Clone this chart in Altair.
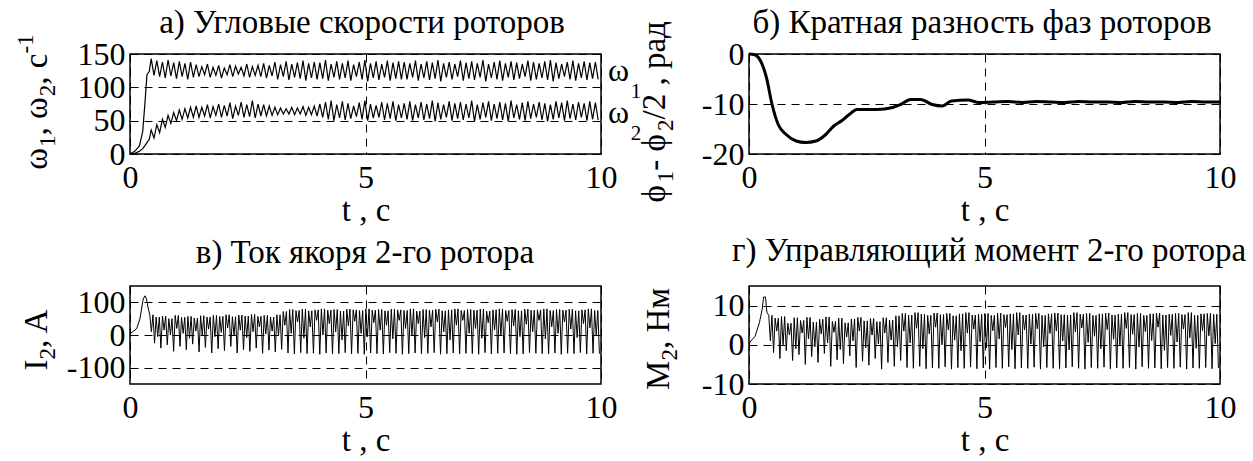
import altair as alt
import numpy as np
import pandas as pd

FONT = "Liberation Serif, Times New Roman, Times, serif"

# ---------------- panel a: angular speeds of the rotors ----------------
w_t0 = [0.0, 0.10, 0.20, 0.27, 0.32, 0.36, 0.41]
w1_t0 = [0, 4, 12, 34, 79, 119, 124]
w2_t0 = [0, 1, 4, 8, 13, 17, 22]
# per-cycle maxima / minima, 0.45 s .. 10 s
w1_hi = [143, 140, 138, 141, 137, 139, 136, 138,
         134, 131, 135, 130, 133, 129, 134, 132, 130, 135, 131, 133,
         136, 133, 138, 134, 139, 135, 137, 140, 136, 138,
         137, 141, 135, 139, 136, 140, 134, 138, 141, 136, 139, 135, 140, 137, 139,
         138, 136, 140, 135, 139, 137, 141, 136, 138, 135, 140, 137, 139, 136, 141,
         135, 138, 140, 136, 139, 137, 135, 140, 138, 136, 139, 141, 137, 135, 138,
         140, 136, 139, 137, 138]
w1_lo = [118, 116, 114, 117, 113, 116, 112, 115,
         116, 119, 115, 118, 114, 119, 116, 120, 117, 115, 118, 116,
         114, 117, 112, 116, 111, 115, 113, 110, 114, 112,
         113, 110, 115, 112, 114, 110, 116, 112, 109, 114, 111, 115, 110, 113, 112,
         112, 115, 110, 114, 111, 113, 109, 115, 112, 116, 110, 113, 111, 115, 109,
         114, 112, 110, 115, 111, 113, 116, 110, 112, 114, 111, 109, 113, 116, 112,
         110, 114, 111, 113, 112]
w2_hi = [36, 44, 52, 58, 62, 66, 68, 70,
         72, 70, 74, 71, 75, 73, 77, 72, 78, 74, 80, 75,
         74, 72, 70, 69, 68, 70, 69, 71, 70, 72,
         75, 78, 80, 74, 79, 76, 72, 77, 80, 75, 73, 78, 76, 79, 74,
         76, 79, 74, 78, 75, 80, 77, 74, 79, 76, 78, 75, 80, 74, 77,
         79, 75, 78, 76, 80, 74, 77, 79, 75, 78, 76, 74, 79, 77, 80,
         75, 78, 76, 79, 77]
w2_lo = [24, 32, 40, 46, 50, 52, 54, 55,
         55, 57, 54, 58, 55, 57, 53, 58, 55, 56, 54, 57,
         57, 58, 59, 60, 60, 59, 60, 58, 59, 57,
         55, 52, 50, 54, 51, 53, 56, 52, 50, 54, 55, 51, 53, 50, 54,
         52, 50, 54, 51, 53, 49, 52, 55, 50, 53, 51, 54, 49, 52, 55,
         50, 53, 51, 49, 54, 52, 50, 53, 55, 51, 49, 52, 54, 50, 53,
         51, 55, 50, 52, 51]

# ---------------- panel b: multiple phase difference ----------------
ph_t = [0.0, 0.1, 0.2, 0.37, 0.49, 0.62, 0.79, 1.0, 1.2, 1.42, 1.63, 1.8, 1.96,
        2.13, 2.29, 2.71, 3.05, 3.22, 3.43, 3.64, 3.89, 4.1, 4.3, 4.64, 4.89,
        5.2, 5.5, 5.8, 6.1, 6.4, 6.7, 7.0, 7.3, 7.6, 7.9, 8.2, 8.5, 8.8, 9.1,
        9.4, 9.7, 10.0]
ph_v = [0.0, -0.1, -0.7, -4.7, -10.1, -14.1, -16.1, -17.4, -17.7, -17.4, -16.1,
        -14.4, -13.4, -12.1, -11.1, -11.1, -10.7, -10.1, -9.1, -9.1, -10.1, -10.4,
        -9.4, -9.2, -9.7, -9.6, -9.5, -9.7, -9.5, -9.6, -9.7, -9.5, -9.6, -9.6,
        -9.7, -9.5, -9.6, -9.6, -9.7, -9.5, -9.6, -9.6]

# ---------------- panel c: armature current of rotor 2 ----------------
i2_t0 = [0.0, 0.14, 0.21, 0.28, 0.32, 0.35, 0.39]
i2_v0 = [4, 19, 49, 110, 120, 110, 80]
i2_hi = [62, 55, 58, 50, 60, 54, 57, 52, 59, 55, 60, 57, 62, 56, 61, 58, 63, 57, 60, 55, 62,
         72, 78, 75, 79, 74, 77, 80, 76, 78, 73, 79, 77, 75, 80, 76, 78, 74, 79, 77, 75,
         80, 73, 78, 76, 79, 74, 77, 80, 75, 78, 76, 79, 73, 77, 80, 75, 78, 74, 79, 76,
         77, 80, 75, 78, 76, 79, 74, 77, 80, 75]
i2_mid = [10, -5, 15, 0, 20, 5, -10, 12, 0, 18, -5, 8, 22, 0, 15, -8, 10, 25, 3, 12, -2,
          30, 5, 40, -10, 25, 45, 0, 35, 10, -15, 28, 42, 5, -5, 38, 15, 30, -12, 45, 20,
          0, 35, -8, 25, 40, 10, -15, 30, 45, 5, 20, -10, 38, 15, 0, 42, 28, -5, 33, 10,
          45, -12, 25, 5, 40, 18, -8, 35, 22, 0]
i2_lo = [-25, -40, -30, -50, -35, -45, -28, -52, -38, -55, -42, -48, -35, -55, -45, -50,
         -40, -56, -46, -52, -44,
         -55, -58, -54, -57, -56, -59, -55, -58, -57, -54, -58, -56, -59, -55, -57, -58,
         -54, -56, -59, -57, -55, -58, -56, -54, -59, -57, -55, -58, -56, -57, -59, -54,
         -58, -56, -55, -57, -59, -58, -54, -56, -57, -58, -55, -59, -56, -57, -54, -58,
         -56, -57]

# ---------------- panel d: control torque of rotor 2 ----------------
m2_t0 = [0.0, 0.13, 0.22, 0.28, 0.31, 0.35, 0.38]
m2_v0 = [0.4, 2.2, 5.6, 9.1, 12.2, 12.2, 8.3]
m2_hi = [7.5, 6.8, 7.2, 5.5, 6.9, 6.2, 7.0, 5.8, 6.5, 7.1, 6.0, 6.8, 5.6, 6.6, 7.0, 6.1,
         6.7, 5.9, 6.9, 6.3, 7.4,
         8.0, 7.6, 8.2, 7.8, 7.5, 8.1, 7.7, 8.0, 7.4, 7.9, 8.2, 7.6, 7.8, 8.0, 7.5, 8.1,
         7.7, 7.9, 8.2, 7.6, 7.8, 8.0, 7.5, 7.9, 8.1, 7.7, 7.6, 8.2, 7.8, 8.0, 7.5, 7.9,
         8.1, 7.6, 7.8, 8.2, 7.7, 8.0, 7.5, 7.9, 8.1, 7.6, 7.8, 8.0, 7.7, 8.2, 7.5, 7.9,
         8.0, 7.8]
m2_mid = [1.0, 3.5, 0.0, 2.5, -1.0, 3.0, 1.5, -0.5, 2.8, 0.5, 3.2, -1.2, 2.0, 1.0, 3.5,
          -0.8, 2.5, 0.2, 3.0, 1.2, -0.5,
          3.5, 0.5, 4.2, -1.0, 2.8, 4.5, 0.0, 3.8, 1.2, -1.5, 3.0, 4.0, 0.8, -0.8, 3.6,
          1.5, 4.4, -1.2, 2.5, 3.8, 0.2, 4.1, -0.5, 2.9, 3.5, 1.0, -1.3, 3.3, 4.3, 0.6,
          2.2, -1.0, 3.9, 1.4, 0.0, 4.2, 2.7, -0.6, 3.4, 1.1, 4.5, -1.4, 2.4, 0.7, 4.0,
          1.8, -0.9, 3.6, 2.3, 0.3]
m2_lo = [-2.0, -3.5, -1.5, -4.0, -2.5, -5.0, -3.0, -4.5, -2.2, -5.5, -3.8, -4.8, -2.8,
         -5.8, -4.2, -5.2, -3.5, -6.2, -4.5, -5.5, -4.0,
         -5.8, -6.0, -5.5, -6.1, -5.9, -6.0, -5.6, -6.2, -5.8, -6.0, -5.7, -6.1, -5.9,
         -6.2, -5.8, -6.0, -5.6, -6.1, -5.9, -6.0, -5.7, -6.2, -5.8, -6.0, -6.1, -5.9,
         -5.6, -6.0, -6.2, -5.8, -6.0, -5.7, -6.1, -5.9, -6.0, -5.8, -6.2, -5.6, -6.0,
         -5.9, -6.1, -5.8, -6.0, -5.7, -6.2, -5.9, -6.0, -5.8, -6.1, -5.9]

# panel headings
titles = ["а) Угловые скорости роторов", "б) Кратная разность фаз роторов",
          "в) Ток якоря 2-го ротора", "г) Управляющий момент 2-го ротора"]

# vertical axis labels: (text, role) pieces, role 0 = normal, 1 = subscript, -1 = superscript
ylab_a = [("ω", 0), ("1", 1), (", ω", 0), ("2", 1), (", с", 0), ("-1", -1)]
ylab_b = [("ϕ", 0), ("1", 1), ("- ϕ", 0), ("2", 1), ("/2 , рад", 0)]
ylab_c = [("I", 0), ("2", 1), (" , A", 0)]
ylab_d = [("M", 0), ("2", 1), (" , Нм", 0)]


def cycle_series(t_start, t_stop, stages):
    """Spread per-cycle extreme values evenly over [t_start, t_stop)."""
    n = min(len(s) for s in stages)
    vals = np.array([s[:n] for s in stages], dtype=float).T.reshape(-1)
    t = np.linspace(t_start, t_stop, len(vals), endpoint=False)
    return t, vals


def join(t0, v0, t1, v1, name):
    return pd.DataFrame({"t": np.concatenate([t0, t1]),
                         "v": np.concatenate([v0, v1]), "s": name})


ta, va1 = cycle_series(0.45, 10.0, [w1_hi, w1_lo])
_, va2 = cycle_series(0.45, 10.0, [w2_hi, w2_lo])
df_a = pd.concat([join(w_t0, w1_t0, ta, va1, "w1"), join(w_t0, w2_t0, ta, va2, "w2")])
df_b = pd.DataFrame({"t": ph_t, "v": ph_v})
tc, vc = cycle_series(0.42, 10.0, [i2_hi, i2_mid, i2_hi, i2_lo])
df_c = join(i2_t0, i2_v0, tc, vc, "i2")
td, vd = cycle_series(0.42, 10.0, [m2_hi, m2_mid, m2_hi, m2_lo])
df_d = join(m2_t0, m2_v0, td, vd, "m2")

# end labels of the two speed curves
lab_main = pd.DataFrame({"t": [10, 10], "v": [125, 62], "txt": ["ω", "ω"]})
lab_sub = pd.DataFrame({"t": [10, 10], "v": [125, 62], "txt": ["1", "2"]})

PW, PH1, PH2 = 471, 100, 98
ONE = pd.DataFrame({"k": [0]})
FS, FS_SUB = 33, 23

# approximate advance widths (em) of the serif face, used to chain label pieces
ADV = {"ω": 0.69, "ϕ": 0.62, ",": 0.25, " ": 0.25, "с": 0.444, "-": 0.333, "/": 0.278,
       "р": 0.5, "а": 0.444, "д": 0.5, "I": 0.333, "A": 0.722, "M": 0.889, "Н": 0.722,
       "м": 0.62}


def text_len(s, size):
    return sum(ADV.get(ch, 0.5) for ch in s) * size


def x_enc():
    return alt.X("t:Q", scale=alt.Scale(domain=[0, 10], nice=False, zero=False),
                 axis=alt.Axis(values=[0, 5, 10], title="t , с",
                               labelExpr="toString(datum.value)", labelPadding=8,
                               labelOverlap=False, titleY=66, titleBaseline="alphabetic"))


def y_enc(dom, vals):
    return alt.Y("v:Q", scale=alt.Scale(domain=dom, nice=False, zero=False),
                 axis=alt.Axis(values=vals, title=None, labelOverlap=False,
                               labelExpr="toString(datum.value)", labelPadding=5))


def heading(text, x, y):
    return alt.Chart(ONE).mark_text(font=FONT, fontSize=33, color="black", align="center",
                                    baseline="alphabetic").encode(
        x=alt.value(x), y=alt.value(y), text=alt.value(text))


def y_label(pieces, base_x, centre_y, sub_shift=8, sup_shift=-14):
    """Rotated axis label built from normal / subscript / superscript pieces."""
    sizes = [FS if r == 0 else FS_SUB for _, r in pieces]
    lens = [text_len(s, z) for (s, _), z in zip(pieces, sizes)]
    y = centre_y + sum(lens) / 2
    layers = []
    for (s, role), z, ln in zip(pieces, sizes, lens):
        shift = {0: 0, 1: sub_shift, -1: sup_shift}[role]
        layers.append(alt.Chart(ONE).mark_text(
            font=FONT, fontSize=z, color="black", angle=270, align="left",
            baseline="alphabetic").encode(
            x=alt.value(base_x + shift), y=alt.value(y), text=alt.value(s)))
        y -= ln
    return layers


# panel a
ya_dom, ya_vals = [0, 150], [0, 50, 100, 150]
pa_lines = alt.Chart(df_a).mark_line(color="black", strokeWidth=1.2, clip=True).encode(
    x=x_enc(), y=y_enc(ya_dom, ya_vals), detail="s:N")
pa_lab = alt.Chart(lab_main).mark_text(font=FONT, fontSize=32, color="black", align="center",
                                       baseline="alphabetic", dx=17.5, dy=10).encode(
    x=x_enc(), y=y_enc(ya_dom, ya_vals), text="txt:N")
pa_sub = alt.Chart(lab_sub).mark_text(font=FONT, fontSize=21, color="black", align="center",
                                      baseline="alphabetic", dx=35, dy=27.5).encode(
    x=x_enc(), y=y_enc(ya_dom, ya_vals), text="txt:N")
# keeps the top-left corner of the page fixed
anchor = alt.Chart(ONE).mark_rect(opacity=0).encode(
    x=alt.value(-129), x2=alt.value(-128), y=alt.value(-53), y2=alt.value(-52))
pa = alt.layer(pa_lines, pa_lab, pa_sub, heading(titles[0], 232, -21),
               *y_label(ylab_a, -83, 48), anchor).properties(width=PW, height=PH1)

# panel b
pb_line = alt.Chart(df_b).mark_line(color="black", strokeWidth=3, interpolate="monotone").encode(
    x=x_enc(), y=y_enc([-20, 0], [-20, -10, 0]))
pb = alt.layer(pb_line, heading(titles[1], 233, -21),
               *y_label(ylab_b, -84, 58)).properties(width=PW, height=PH1)

# panel c
pc_line = alt.Chart(df_c).mark_line(color="black", strokeWidth=1.0, clip=True).encode(
    x=x_enc(), y=y_enc([-150, 150], [-100, 0, 100]))
pc = alt.layer(pc_line, heading(titles[2], 235, -23),
               *y_label(ylab_c, -83, 49)).properties(width=PW, height=PH2)

# panel d
pd_line = alt.Chart(df_d).mark_line(color="black", strokeWidth=1.0, clip=True).encode(
    x=x_enc(), y=y_enc([-10, 15], [-10, 0, 10]))
pdd = alt.layer(pd_line, heading(titles[3], 240, -25),
                *y_label(ylab_d, -80, 49)).properties(width=PW, height=PH2)

chart = alt.concat(pa, pb, pc, pdd, columns=2, spacing={"row": 132, "column": 148},
                   bounds="flush").properties(padding=0, background="white")
chart = chart.configure_view(stroke="black", strokeWidth=1.5).configure_axis(
    labelFont=FONT, labelFontSize=32, labelColor="black",
    titleFont=FONT, titleFontSize=33, titleFontWeight="normal", titleColor="black",
    domain=False, ticks=False, tickSize=0, grid=True, gridColor="black",
    gridDash=[8, 6], gridWidth=1, labelFlush=False, labelOverlap=False)

chart.save("out.html", embed_options={"renderer": "svg", "actions": False})
